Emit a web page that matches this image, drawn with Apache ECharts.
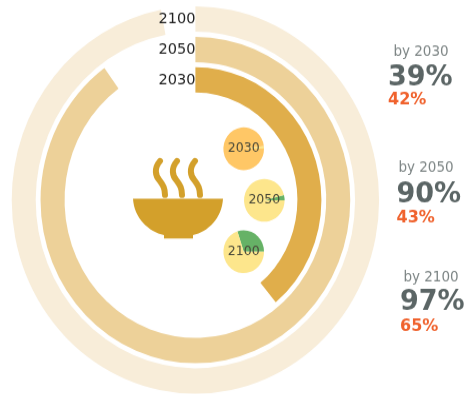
<!DOCTYPE html>
<html>
<head>
<meta charset="utf-8">
<style>
html{overflow:hidden;background:#fff}
body{margin:0;padding:0;background:#fff;height:394px}
#chart{width:467px;height:374px;transform-origin:0 0;transform:scaleY(1.054)}
</style>
<script src="https://cdn.jsdelivr.net/npm/echarts@6/dist/echarts.min.js"></script>
</head>
<body>
<div id="chart"></div>
<script>
// Share of the goal reached per horizon year
const years = ['2030', '2050', '2100'];
const ringValues = [39, 90, 97];
const ringColors = ['#E0AE4B', '#EDD199', '#F8EDD9'];
const headlineLabels = ['39%', '90%', '97%'];
const secondaryLabels = ['42%', '43%', '65%'];
const captions = ['by 2030', 'by 2050', 'by 2100'];

// Mini pies: share of each class per year
const greenShare = [0, 4, 30];
const yellowShare = [2, 96, 70];
const orangeShare = [98, 0, 0];

const squash = 1 / 1.054;
const font = '"DejaVu Sans", sans-serif';
const pieCenters = [[243.7, 148.7], [264.3, 200.3], [243.7, 251.7]];
const textSpots = [
  { mid: 421, left: 388, y: [51.7, 78.5, 100] },
  { mid: 426, left: 396.5, y: [168, 195, 218] },
  { mid: 431, left: 400, y: [278, 303, 327] }
];

const pies = years.map((year, i) => ({
  type: 'pie',
  silent: true,
  animation: false,
  center: [pieCenters[i][0], pieCenters[i][1] * squash],
  radius: [0, 20.3],
  startAngle: 0,
  clockwise: false,
  minShowLabelAngle: 0,
  stillShowZeroSum: false,
  labelLine: { show: false },
  label: { show: false },
  z: 3,
  data: [
    { value: greenShare[i], itemStyle: { color: '#66B266' } },
    { value: yellowShare[i], itemStyle: { color: '#FDE68C' } },
    { value: orangeShare[i], itemStyle: { color: '#FFC766' } }
  ]
}));

// Year name written over each mini pie
const pieTexts = years.map((year, i) => ({
  type: 'text',
  x: pieCenters[i][0],
  y: (pieCenters[i][1] - 0.5) * squash,
  z: 10,
  style: {
    text: year, fill: '#4a4a3a', font: '12.5px ' + font,
    align: 'center', verticalAlign: 'middle'
  }
}));

const sideTexts = [];
textSpots.forEach((spot, i) => {
  sideTexts.push(
    { type: 'text', x: spot.mid, y: spot.y[0] * squash,
      style: { text: captions[i], fill: '#7d8585', font: '13.5px ' + font, align: 'center', verticalAlign: 'middle' } },
    { type: 'text', x: spot.left, y: spot.y[1] * squash,
      style: { text: headlineLabels[i], fill: '#5B6565', font: 'bold 27px ' + font, align: 'left', verticalAlign: 'middle' } },
    { type: 'text', x: spot.left, y: spot.y[2] * squash,
      style: { text: secondaryLabels[i], fill: '#F0622D', font: 'bold 16px ' + font, align: 'left', verticalAlign: 'middle' } }
  );
});

// Bowl and three wisps of steam
const bowlColor = '#D3A02B';
const steam = [
  'M160 161C154 168 155 176 160 181C163 185 165 188 165 195',
  'M177 161C171 168 172 176 177 181C180 185 182 188 182 195',
  'M195 161C189 168 190 176 195 181C198 185 200 188 200 195'
];
const bowlPath = 'M133 198.7H223C222 218 208 232 193 235V238.5H164V235C149 232 134 218 133 198.7Z';
const iconParts = [bowlPath].concat(steam);
iconParts.forEach((d, i) => {
  echarts.graphic.registerShape('iconPart' + i, echarts.graphic.extendPath(d, {}));
});
const bowlIcon = {
  type: 'group',
  scaleY: squash,
  children: iconParts.map((d, i) => ({
    type: 'iconPart' + i,
    shape: {},
    style: i === 0
      ? { fill: bowlColor }
      : { fill: 'none', stroke: bowlColor, lineWidth: 6, lineCap: 'round' }
  }))
};

const chart = echarts.init(document.getElementById('chart'), null, { renderer: 'canvas' });
chart.setOption({
  animation: false,
  backgroundColor: '#fff',
  polar: { center: [195.4, 200 * squash], radius: [99.6, 186.1] },
  angleAxis: { type: 'value', min: 0, max: 100, startAngle: 90, show: false },
  radiusAxis: {
    type: 'category',
    data: years,
    z: 5,
    axisLine: { show: false },
    axisTick: { show: false },
    splitLine: { show: false },
    axisLabel: { color: '#222', fontSize: 14.5, fontFamily: font, margin: 0, interval: 0, hideOverlap: false }
  },
  series: [{
    type: 'bar',
    coordinateSystem: 'polar',
    silent: true,
    barWidth: 24,
    data: ringValues.map((v, i) => ({ value: v, itemStyle: { color: ringColors[i] } }))
  }].concat(pies),
  graphic: [bowlIcon].concat(pieTexts, sideTexts)
});
</script>
</body>
</html>
